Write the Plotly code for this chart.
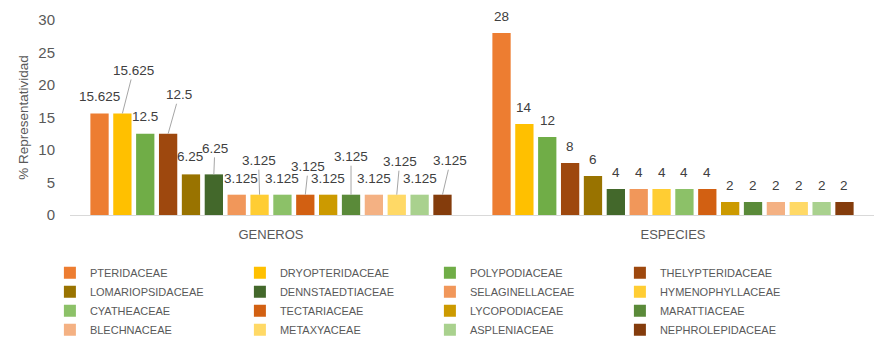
import plotly.graph_objects as go

categories = ["GENEROS", "ESPECIES"]
families = [
    "PTERIDACEAE", "DRYOPTERIDACEAE", "POLYPODIACEAE", "THELYPTERIDACEAE",
    "LOMARIOPSIDACEAE", "DENNSTAEDTIACEAE", "SELAGINELLACEAE", "HYMENOPHYLLACEAE",
    "CYATHEACEAE", "TECTARIACEAE", "LYCOPODIACEAE", "MARATTIACEAE",
    "BLECHNACEAE", "METAXYACEAE", "ASPLENIACEAE", "NEPHROLEPIDACEAE",
]
generos = [15.625, 15.625, 12.5, 12.5, 6.25, 6.25, 3.125, 3.125,
           3.125, 3.125, 3.125, 3.125, 3.125, 3.125, 3.125, 3.125]
especies = [28, 14, 12, 8, 6, 4, 4, 4, 4, 4, 2, 2, 2, 2, 2, 2]

colors = [
    "#ED7D31", "#FFC000", "#70AD47", "#9E480E",
    "#997300", "#43682B", "#F1975A", "#FFCD33",
    "#8CC168", "#D26012", "#CC9A00", "#5A8A39",
    "#F4B183", "#FFD966", "#A9D18E", "#843C0C",
]

# label placement for GENEROS (pixel offsets of label centre from bar top, leader line flag)
gen_label_style = [
    (0, -17, False), (11, -43, True), (0, -17, False), (11, -39, True),
    (-1, -18, False), (1, -26, True), (4, -16, False), (-1, -34, True),
    (0, -16, False), (3, -28, True), (0, -16, False), (0, -38, True),
    (0, -16, False), (3, -33, True), (0, -16, False), (8, -34, True),
]

BARGAP = 0.09
GROUPGAP = 0.2
TXT = "#595959"
FONT = "Liberation Sans"

fig = go.Figure()
for k, fam in enumerate(families):
    fig.add_trace(go.Bar(
        name=fam, x=categories, y=[generos[k], especies[k]],
        marker=dict(color=colors[k], line=dict(width=0)),
        hoverinfo="skip",
    ))

n = len(families)
slot = (1 - BARGAP) / n
annotations = []
series_vals = [generos, especies]
for ci, vals in enumerate(series_vals):
    for k, v in enumerate(vals):
        xc = ci - (1 - BARGAP) / 2 + (k + 0.5) * slot
        label = f"{v:g}"
        if ci == 0:
            dx, dy, arrow = gen_label_style[k]
        else:
            dx, dy, arrow = (0, -17, False)
        base = dict(x=xc, y=v, xref="x", yref="y", text=label,
                    font=dict(family=FONT, size=13.5, color="#404040"))
        if arrow:
            base.update(showarrow=True, ax=dx, ay=dy, arrowhead=0,
                        arrowwidth=1, arrowcolor="#A6A6A6", standoff=0)
        else:
            base.update(showarrow=False, xshift=dx, yshift=-dy,
                        xanchor="center", yanchor="middle")
        annotations.append(base)

fig.update_layout(
    width=892, height=341,
    margin=dict(l=70, r=18, t=20, b=126, autoexpand=False),
    paper_bgcolor="white", plot_bgcolor="white",
    barmode="group", bargap=BARGAP, bargroupgap=GROUPGAP,
    font=dict(family=FONT, color=TXT),
    annotations=annotations,
    showlegend=True,
    legend=dict(
        orientation="h", x=-0.025, xanchor="left", y=-0.222, yanchor="top",
        entrywidth=145, entrywidthmode="pixels",
        font=dict(family=FONT, size=11, color=TXT),
        traceorder="normal",
    ),
    xaxis=dict(
        showline=True, linecolor="#D9D9D9", linewidth=1,
        ticks="", tickfont=dict(family=FONT, size=13, color=TXT),
        ticklabelstandoff=7, showgrid=False,
    ),
    yaxis=dict(
        range=[0, 30], dtick=5, showgrid=False, zeroline=False,
        ticks="", tickfont=dict(family=FONT, size=15, color=TXT),
        ticklabelstandoff=14,
        title=dict(text="% Representatividad", standoff=6,
                   font=dict(family=FONT, size=13.5, color=TXT)),
    ),
)

fig.write_html("out.html")
